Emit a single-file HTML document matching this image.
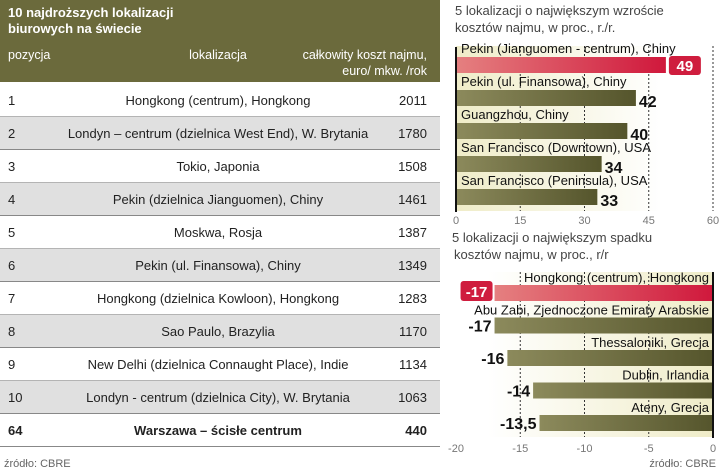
<!DOCTYPE html>
<html><head><meta charset="utf-8"><style>
body{margin:0;background:#fff;}
svg{display:block;font-family:"Liberation Sans",sans-serif;}
</style></head><body>
<svg id="c" width="720" height="474" viewBox="0 0 720 474">
<defs>
<linearGradient id="ol" x1="0" x2="1"><stop offset="0" stop-color="#8c8a5c"/><stop offset="1" stop-color="#55552c"/></linearGradient>
<linearGradient id="rd" x1="0" x2="1"><stop offset="0" stop-color="#e58080"/><stop offset="1" stop-color="#d0183c"/></linearGradient>
<linearGradient id="bg" x1="0" x2="1"><stop offset="0" stop-color="#efecc8"/><stop offset="1" stop-color="#ffffff"/></linearGradient>
<linearGradient id="bgr" x1="1" x2="0"><stop offset="0" stop-color="#efecc8"/><stop offset="1" stop-color="#ffffff"/></linearGradient>
</defs>
<g id="table">
<rect x="0" y="0" width="440" height="82" fill="#6b6a3c"/>
<text x="8" y="17" font-size="13" font-weight="bold" fill="#fff">10 najdroższych lokalizacji</text>
<text x="8" y="33" font-size="13" font-weight="bold" fill="#fff">biurowych na świecie</text>
<text x="8" y="59" font-size="12.5" fill="#fff">pozycja</text>
<text x="218" y="59" font-size="12.5" fill="#fff" text-anchor="middle">lokalizacja</text>
<text x="427" y="59" font-size="12.5" fill="#fff" text-anchor="end">całkowity koszt najmu,</text>
<text x="427" y="75" font-size="12.5" fill="#fff" text-anchor="end">euro/ mkw. /rok</text>
</g>
<g id="topchart"></g>
<g id="botchart"></g>
<text x="4" y="467" font-size="11" fill="#666">źródło: CBRE</text>
<text x="716" y="467" font-size="11" fill="#666" text-anchor="end">źródło: CBRE</text>
</svg>
<script>
const ranks=["1","2","3","4","5","6","7","8","9","10","64"];
const places=["Hongkong (centrum), Hongkong","Londyn – centrum (dzielnica West End), W. Brytania","Tokio, Japonia","Pekin (dzielnica Jianguomen), Chiny","Moskwa, Rosja","Pekin (ul. Finansowa), Chiny","Hongkong (dzielnica Kowloon), Hongkong","Sao Paulo, Brazylia","New Delhi (dzielnica Connaught Place), Indie","Londyn - centrum (dzielnica City), W. Brytania","Warszawa – ścisłe centrum"];
const costs=[2011,1780,1508,1461,1387,1349,1283,1170,1134,1063,440];

const upNames=["Pekin (Jianguomen - centrum), Chiny","Pekin (ul. Finansowa), Chiny","Guangzhou, Chiny","San Francisco (Downtown), USA","San Francisco (Peninsula), USA"];
const upValues=[49,42,40,34,33];
const upTicks=[0,15,30,45,60];

const downNames=["Hongkong (centrum), Hongkong","Abu Zabi, Zjednoczone Emiraty Arabskie","Thessaloniki, Grecja","Dublin, Irlandia","Ateny, Grecja"];
const downValues=[-17,-17,-16,-14,-13.5];
const downLabels=["-17","-17","-16","-14","-13,5"];
const downTicks=[-20,-15,-10,-5,0];

const NS="http://www.w3.org/2000/svg";
function mk(parent,tag,attrs,txt){const e=document.createElementNS(NS,tag);for(const k in attrs)e.setAttribute(k,attrs[k]);if(txt!=null)e.textContent=txt;parent.appendChild(e);return e;}

const tg=document.getElementById('table');
ranks.forEach((r,i)=>{
  const cy=100+33*i;
  if(i%2===1){const b=mk(tg,'rect',{x:0,y:cy-16.5,width:440,height:33,fill:'#e0e0e0'});
    
    }
  const ln=mk(tg,'line',{x1:0,x2:440,y1:cy+16.5,y2:cy+16.5,stroke:'#888','stroke-width':1});
  
  
  const bold=i===10?'bold':'normal';
  const t1=mk(tg,'text',{x:8,y:cy+5,'font-size':13,'font-weight':bold,fill:'#222'},r);
  
  
  const t2=mk(tg,'text',{x:218,y:cy+5,'font-size':13,'font-weight':bold,fill:'#222','text-anchor':'middle'},places[i]);
  
  
  const t3=mk(tg,'text',{x:427,y:cy+5,'font-size':13,'font-weight':bold,fill:'#222','text-anchor':'end'},costs[i]);
  
  
});

const topG=document.getElementById('topchart');
const x0=456,x1=713;
const xs=v=>x0+(v-0)/(60-0)*(x1-x0);
mk(topG,'text',{x:455,y:15,'font-size':13,fill:'#444'},'5 lokalizacji o największym wzroście');
mk(topG,'text',{x:455,y:32,'font-size':13,fill:'#444'},'kosztów najmu, w proc., r./r.');
mk(topG,'rect',{x:x0,y:46,width:xs(48)-x0,height:165,fill:'url(#bg)'});
upTicks.forEach(t=>{
  if(t>0){const g=mk(topG,'line',{x1:xs(t),x2:xs(t),y1:46,y2:211,stroke:'#333','stroke-dasharray':'2,2','stroke-width':1});
  
  }
  const tl=mk(topG,'text',{x:xs(t),y:224,'font-size':11,fill:'#777','text-anchor':'middle'},t);
  
  
});
upValues.forEach((v,i)=>{
  const by=57+33*i;
  const lab=mk(topG,'text',{x:461,y:by-4,'font-size':13,fill:'#111'},upNames[i]);
  
  
  const b=mk(topG,'rect',{x:x0,y:by,width:xs(v)-x0,height:16,fill:i===0?'url(#rd)':'url(#ol)'});
  
  
  if(i===0){
    const bx=mk(topG,'rect',{x:xs(v)+3,y:by-1,width:32,height:19,rx:3,fill:'#cf1d3e'});
    
    
    const vt=mk(topG,'text',{x:xs(v)+19,y:by+14,'font-size':15,'font-weight':'bold',fill:'#fff','text-anchor':'middle'},v);
    
    
  } else {
    const vt=mk(topG,'text',{x:xs(v)+3,y:by+17,'font-size':16,'font-weight':'bold',fill:'#111'},v);
    
    
  }
});
mk(topG,'line',{x1:x0,x2:x0,y1:47,y2:212,stroke:'#111','stroke-width':2});

const botG=document.getElementById('botchart');
const xb=v=>456+(v+20)/20*(713-456);
mk(botG,'text',{x:452,y:242,'font-size':13,fill:'#444'},'5 lokalizacji o największym spadku');
mk(botG,'text',{x:454,y:259,'font-size':13,fill:'#444'},'kosztów najmu, w proc., r/r');
mk(botG,'rect',{x:xb(-17.5),y:272,width:713-xb(-17.5),height:165,fill:'url(#bgr)'});
downTicks.forEach(t=>{
  if(t>-20&&t<0){const g=mk(botG,'line',{x1:xb(t),x2:xb(t),y1:272,y2:437,stroke:'#333','stroke-dasharray':'2,2','stroke-width':1});
  
  }
  const tl=mk(botG,'text',{x:xb(t),y:452,'font-size':11,fill:'#777','text-anchor':'middle'},t);
  
  
});
downValues.forEach((v,i)=>{
  const by=285+32.5*i;
  const lab=mk(botG,'text',{x:709,y:by-3,'font-size':13,fill:'#111','text-anchor':'end'},downNames[i]);
  
  
  const b=mk(botG,'rect',{x:xb(v),y:by,width:713-xb(v),height:16,fill:i===0?'url(#rd)':'url(#ol)'});
  
  
  if(i===0){
    const bx=mk(botG,'rect',{x:xb(v)-34,y:by-4,width:32,height:20,rx:3,fill:'#cf1d3e'});
    
    
    const vt=mk(botG,'text',{x:xb(v)-18,y:by+12,'font-size':15,'font-weight':'bold',fill:'#fff','text-anchor':'middle'},downLabels[i]);
    
    
  } else {
    const vt=mk(botG,'text',{x:xb(v)-3,y:by+14,'font-size':16,'font-weight':'bold',fill:'#111','text-anchor':'end'},downLabels[i]);
    
    
  }
});
mk(botG,'line',{x1:713,x2:713,y1:272,y2:438,stroke:'#111','stroke-width':2});
</script>
</body></html>
